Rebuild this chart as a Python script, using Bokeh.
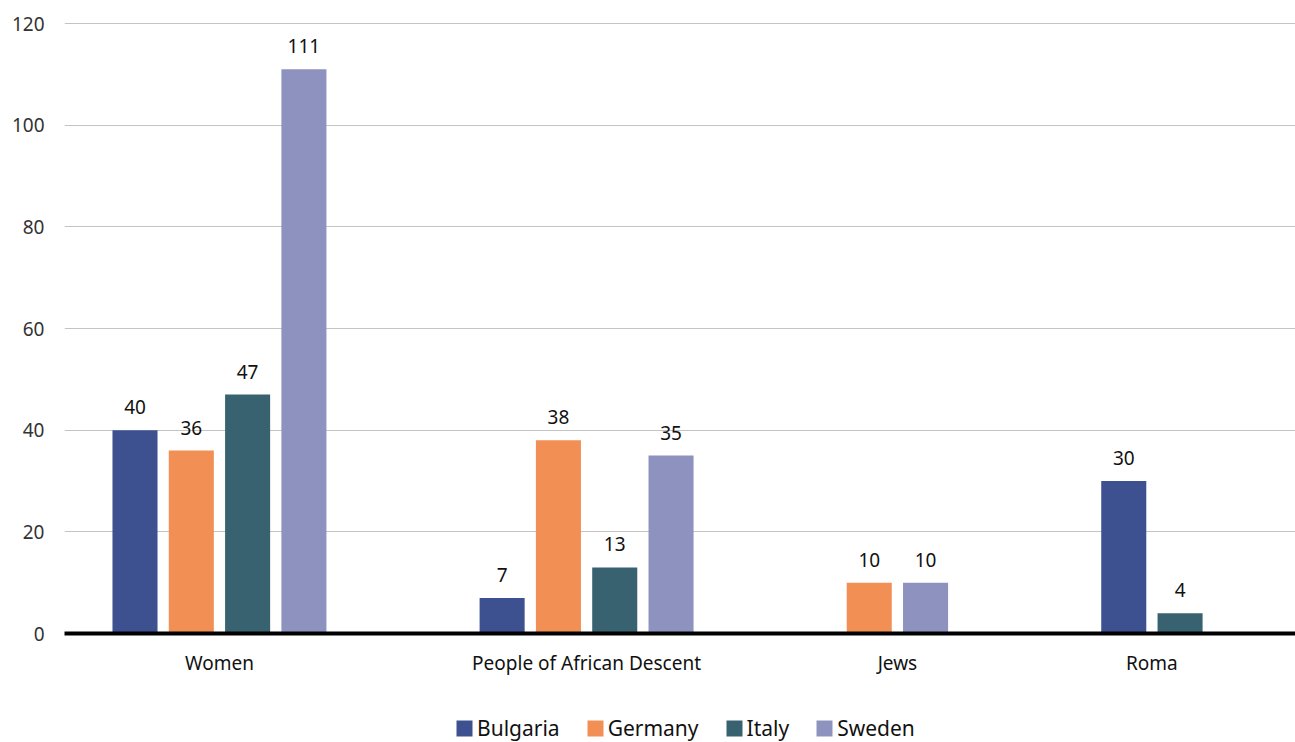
from bokeh.plotting import figure
from bokeh.models import ColumnDataSource, FixedTicker, Legend, LegendItem, Range1d
from bokeh.layouts import column
from bokeh.embed import file_html
from bokeh.resources import INLINE

categories = ["Women", "People of African Descent", "Jews", "Roma"]
series = ["Bulgaria", "Germany", "Italy", "Sweden"]
bulgaria = [40, 7, None, 30]
germany = [36, 38, 10, None]
italy = [47, 13, None, 4]
sweden = [111, 35, 10, None]
colors = ["#3d5191", "#f28f55", "#38626f", "#8e92bf"]
y_ticks = [0, 20, 40, 60, 80, 100, 120]

values = [bulgaria, germany, italy, sweden]
FONT = "Noto Sans"
GROUP_STEP = 3.52  # distance between last bar of a group and first bar of the next

p = figure(width=1295, height=700, output_backend="svg", toolbar_location=None,
           x_range=Range1d(-1.252, 20.61), y_range=Range1d(0, 120.6),
           min_border_left=64, min_border_right=0, min_border_top=20, min_border_bottom=67)
p.outline_line_color = None
p.background_fill_color = "white"
p.border_fill_color = "white"

centers = []
start = 0.0
for ci, cat in enumerate(categories):
    present = [si for si in range(len(series)) if values[si][ci] is not None]
    xs_cat = []
    for j, si in enumerate(present):
        x = start + j
        xs_cat.append(x)
        src = ColumnDataSource(dict(x=[x], top=[values[si][ci]], lab=[str(values[si][ci])]))
        p.vbar(x="x", top="top", bottom=0, width=0.8, source=src,
               fill_color=colors[si], line_color=None)
        p.text(x="x", y="top", text="lab", source=src, text_align="center",
               text_baseline="bottom", y_offset=-16, text_font_size="19px",
               text_color="#111111", text_font={"value": FONT})
    centers.append(sum(xs_cat) / len(xs_cat))
    start = xs_cat[-1] + GROUP_STEP

p.xaxis.ticker = FixedTicker(ticks=centers)
p.xaxis.major_label_overrides = {c: cat for c, cat in zip(centers, categories)}
p.xaxis.major_tick_line_color = None
p.xaxis.minor_tick_line_color = None
p.xaxis.axis_line_color = "black"
p.xaxis.axis_line_width = 4
p.xaxis.major_label_text_font = FONT
p.xaxis.major_label_text_font_size = "19px"
p.xaxis.major_label_text_color = "#111111"
p.xaxis.major_label_standoff = 10
p.xgrid.grid_line_color = None

p.yaxis.ticker = FixedTicker(ticks=y_ticks)
p.yaxis.axis_line_color = None
p.yaxis.major_tick_line_color = None
p.yaxis.minor_tick_line_color = None
p.yaxis.major_label_text_font = FONT
p.yaxis.major_label_text_font_size = "19px"
p.yaxis.major_label_text_color = "#333333"
p.yaxis.major_label_standoff = 14
p.ygrid.grid_line_color = "#c4c4c4"
p.ygrid.grid_line_width = 1

# Legend strip below the chart
lg = figure(width=1295, height=42, output_backend="svg", toolbar_location=None,
            x_range=Range1d(0, 1), y_range=Range1d(0, 1),
            x_axis_location=None, y_axis_location=None,
            min_border_left=0, min_border_right=0, min_border_top=0, min_border_bottom=0)
lg.grid.visible = False
lg.outline_line_color = None
lg.border_fill_color = "white"
items = []
for s, c in zip(series, colors):
    r = lg.vbar(x=[5], top=[1], width=0.1, fill_color=c, line_color=None)
    items.append(LegendItem(label=s, renderers=[r]))
legend = Legend(items=items, orientation="horizontal", location=(390, 0),
                glyph_width=20, glyph_height=20, label_standoff=3, spacing=25,
                label_text_font=FONT, label_text_font_size="21px",
                label_text_color="#111111", background_fill_alpha=0,
                border_line_color=None, padding=0, margin=0)
lg.add_layout(legend, "center")

open("out.html", "w").write(file_html(column(p, lg, spacing=0), INLINE))
